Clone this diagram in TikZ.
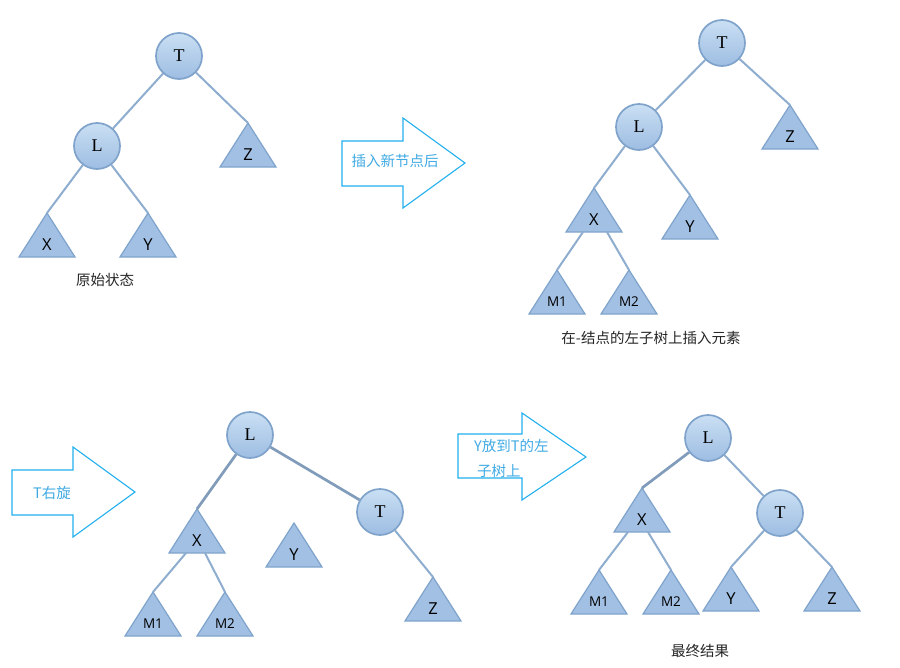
\documentclass[tikz,border=0pt]{standalone}
\usepackage{fontspec}
\newfontfamily\cjk{Noto Sans CJK SC}
\newfontfamily\serifL{Liberation Serif}
\newfontfamily\sansL{Open Sans}
\definecolor{ctop}{HTML}{CADFF3}
\definecolor{cbot}{HTML}{9DBDE2}
\definecolor{cborder}{HTML}{7FA3CB}
\definecolor{trifill}{HTML}{A2C0E3}
\definecolor{edgec}{HTML}{8EADCF}
\definecolor{arrowc}{HTML}{22B0EE}
\definecolor{arrowt}{HTML}{40AAE4}
\tikzset{
  circ/.style={circle, minimum size=46pt, inner sep=0pt, draw=cborder, line width=1.7pt,
    top color=ctop, bottom color=cbot, font=\serifL\fontsize{18}{18}\selectfont},
  tri/.style={draw=cborder, line width=1.2pt, fill=trifill, line join=miter},
  trilab/.style={inner sep=0pt, font=\sansL\fontsize{16.5}{16.5}\selectfont},
  mlab/.style={inner sep=0pt, font=\sansL\fontsize{13.5}{13.5}\selectfont},
  edge/.style={draw=edgec, line width=2pt},
  fuzzy/.style={draw=edgec!90!black, line width=2.7pt},
  bigarrow/.style={draw=arrowc, line width=1.1pt, fill=white, line join=miter},
  arrowtext/.style={inner sep=0pt, text=arrowt, font=\cjk\fontsize{14.5}{25}\selectfont},
  caption/.style={inner sep=0pt, text=black!85, font=\cjk\fontsize{14.5}{14.5}\selectfont}
}
\newcommand\mytri[4]{%
  \coordinate (#1) at (#2,#3);
  \draw[tri] (#1) -- ++(-28,44) -- ++(56,0) -- cycle;
  \node[trilab] (#1-l) at ([yshift=-32pt]#1) {#4};
}
\newcommand\mymtri[4]{%
  \coordinate (#1) at (#2,#3);
  \draw[tri] (#1) -- ++(-28,44) -- ++(56,0) -- cycle;
  \node[mlab] (#1-l) at ([yshift=-32pt]#1) {#4};
}
\begin{document}
\begin{tikzpicture}[x=1pt,y=-1pt]
\useasboundingbox[fill=white] (0,0) rectangle (900,667);

% ---------- Panel 1 ----------
\mytri{pa-z}{248}{123}{Z}
\mytri{pa-x}{47}{213}{X}
\mytri{pa-y}{148}{213}{Y}
\node[circ] (pa-T) at (179,56) {T};
\node[circ] (pa-L) at (97,146) {L};
\draw[edge] (pa-T) -- (pa-L);
\draw[edge] (pa-T) -- (pa-z);
\draw[edge] (pa-L) -- (pa-x);
\draw[edge] (pa-L) -- (pa-y);
\node[caption] (cap1) at (105,280) {原始状态};

% ---------- Arrow 1 ----------
\draw[bigarrow] (342,141) -- (403,141) -- (403,118) -- (465,163) -- (403,208) -- (403,186) -- (342,186) -- cycle;
\node[arrowtext] (at1) at (395,161) {插入新节点后};

% ---------- Panel 2 ----------
\mytri{pb-z}{790}{105}{Z}
\mytri{pb-x}{594}{188}{X}
\mytri{pb-y}{690}{195}{Y}
\mymtri{pb-m1}{557}{270}{M1}
\mymtri{pb-m2}{629}{270}{M2}
\node[circ] (pb-T) at (722,43) {T};
\node[circ] (pb-L) at (639,127) {L};
\draw[edge] (pb-T) -- (pb-L);
\draw[edge] (pb-T) -- (pb-z);
\draw[edge] (pb-L) -- (pb-x);
\draw[edge] (pb-L) -- (pb-y);
\draw[edge] ([xshift=-11pt,yshift=-44pt]pb-x) -- (pb-m1);
\draw[edge] ([xshift=13pt,yshift=-44pt]pb-x) -- (pb-m2);
\node[caption] (cap2) at (651,338) {在-结点的左子树上插入元素};

% ---------- Arrow 2 ----------
\draw[bigarrow] (12,470) -- (73,470) -- (73,447) -- (135,492) -- (73,537) -- (73,515) -- (12,515) -- cycle;
\node[arrowtext] (at2) at (52,493) {T右旋};

% ---------- Panel 3 ----------
\mytri{pc-x}{197}{509}{X}
\mytri{pc-y}{294}{523}{Y}
\mymtri{pc-m1}{153}{592}{M1}
\mymtri{pc-m2}{225}{592}{M2}
\mytri{pc-z}{433}{577}{Z}
\node[circ] (pc-L) at (250,435) {L};
\node[circ] (pc-T) at (380,512) {T};
\draw[fuzzy] (pc-L) -- (pc-x);
\draw[fuzzy] (pc-L) -- (pc-T);
\draw[edge] (pc-T) -- (pc-z);
\draw[edge] ([xshift=-11pt,yshift=-44pt]pc-x) -- (pc-m1);
\draw[edge] ([xshift=8pt,yshift=-44pt]pc-x) -- (pc-m2);

% ---------- Arrow 3 ----------
\draw[bigarrow] (458,434) -- (522,434) -- (522,413) -- (586,457) -- (522,500) -- (522,478) -- (458,478) -- cycle;
\node[arrowtext, align=left, anchor=west] (at3) at (474,458) {Y放到T的左\\\hspace*{3pt}子树上};

% ---------- Panel 4 ----------
\mytri{pd-x}{642}{488}{X}
\mymtri{pd-m1}{599}{570}{M1}
\mymtri{pd-m2}{671}{570}{M2}
\mytri{pd-y}{731}{567}{Y}
\mytri{pd-z}{832}{567}{Z}
\node[circ] (pd-L) at (708,438) {L};
\node[circ] (pd-T) at (780,513) {T};
\draw[fuzzy] (pd-L) -- (pd-x);
\draw[edge] (pd-L) -- (pd-T);
\draw[edge] (pd-T) -- (pd-y);
\draw[edge] (pd-T) -- (pd-z);
\draw[edge] ([xshift=-14pt,yshift=-44pt]pd-x) -- (pd-m1);
\draw[edge] ([xshift=6pt,yshift=-44pt]pd-x) -- (pd-m2);
\node[caption] (cap4) at (700,651) {最终结果};
\end{tikzpicture}
\end{document}
